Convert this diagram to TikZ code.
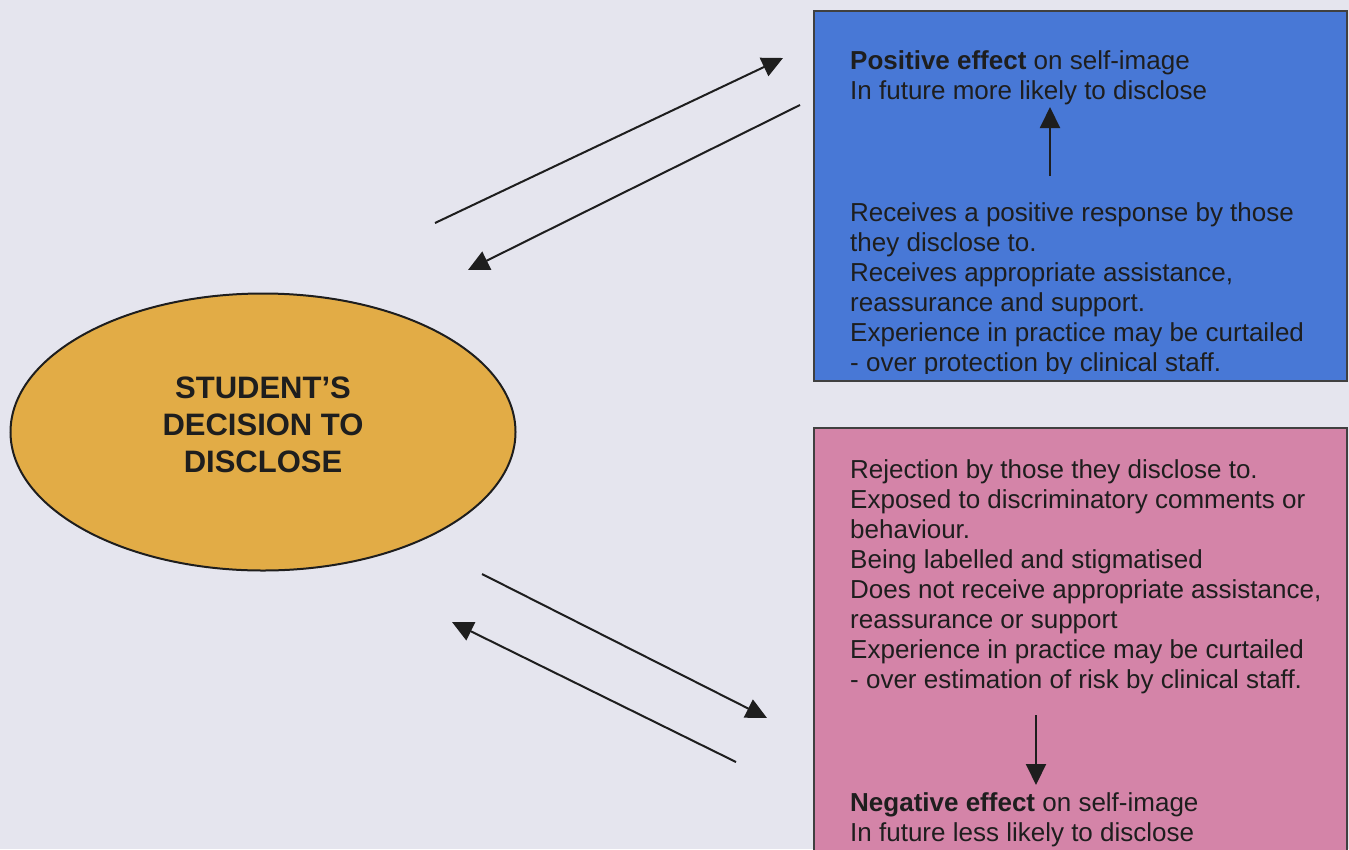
\documentclass[tikz,border=0pt]{standalone}
\usepackage{fontspec}
\setmainfont{Liberation Sans}
\usetikzlibrary{arrows.meta,shapes.geometric}
\definecolor{pagebg}{RGB}{229,229,238}
\definecolor{posblue}{RGB}{72,120,214}
\definecolor{negpink}{RGB}{212,132,168}
\definecolor{decgold}{RGB}{226,172,70}
\definecolor{ink}{RGB}{30,30,30}
\tikzset{
  panel/.style={draw=ink!85, line width=2pt},
  bodytext/.style={anchor=north west, inner sep=0pt, align=left, text=ink,
    font=\fontsize{26}{30}\selectfont},
  flow/.style={draw=ink, line width=2pt, -{Triangle[length=21pt,width=20pt]}},
}
\begin{document}
\begin{tikzpicture}[x=1pt,y=-1pt]
  \useasboundingbox[fill=pagebg] (0,0) rectangle (1349,849);

  % outcome panels
  \path[panel, fill=posblue] (814,11) rectangle (1347,381);
  \path[panel, fill=negpink] (814,428) rectangle (1347,870);

  % central decision
  \node[ellipse, draw=ink, line width=2pt, fill=decgold,
        minimum width=505pt, minimum height=277pt] (dec) at (263,432) {};
  \node[align=center, text=ink, font=\fontsize{31}{37}\selectfont\bfseries]
        (dectext) at (263,425) {STUDENT’S\\DECISION TO\\DISCLOSE};

  % positive outcome
  \node[bodytext] (poseff) at (850,48)
    {\strut\textbf{Positive effect} on self-image\\In future more likely to disclose};
  \begin{scope}
    \clip (814,0) rectangle (1349,373);
    \node[bodytext] (posresp) at (850,200)
      {\strut Receives a positive response by those\\they disclose to.\\
       Receives appropriate assistance,\\reassurance and support.\\
       Experience in practice may be curtailed\\- over protection by clinical staff.};
  \end{scope}

  % negative outcome
  \node[bodytext] (negresp) at (850,457)
    {\strut Rejection by those they disclose to.\\Exposed to discriminatory comments or\\
     behaviour.\\Being labelled and stigmatised\\
     Does not receive appropriate assistance,\\reassurance or support\\
     Experience in practice may be curtailed\\- over estimation of risk by clinical staff.};
  \node[bodytext] (negeff) at (850,790)
    {\strut\textbf{Negative effect} on self-image\\In future less likely to disclose};

  % connector end points
  \coordinate (pupS) at (1050,176);
  \coordinate (pupE) at (1050,107);
  \coordinate (ndnS) at (1036,715);
  \coordinate (ndnE) at (1036,785);
  \coordinate (toPosS) at (435,223);
  \coordinate (toPosE) at (783,58);
  \coordinate (fromPosS) at (800,105);
  \coordinate (fromPosE) at (468,270);
  \coordinate (toNegS) at (482,574);
  \coordinate (toNegE) at (767,718);
  \coordinate (fromNegS) at (736,762);
  \coordinate (fromNegE) at (452,622);

  \draw[flow] (pupS) -- (pupE);
  \draw[flow] (ndnS) -- (ndnE);
  \draw[flow] (toPosS) -- (toPosE);
  \draw[flow] (fromPosS) -- (fromPosE);
  \draw[flow] (toNegS) -- (toNegE);
  \draw[flow] (fromNegS) -- (fromNegE);
\end{tikzpicture}
\end{document}
